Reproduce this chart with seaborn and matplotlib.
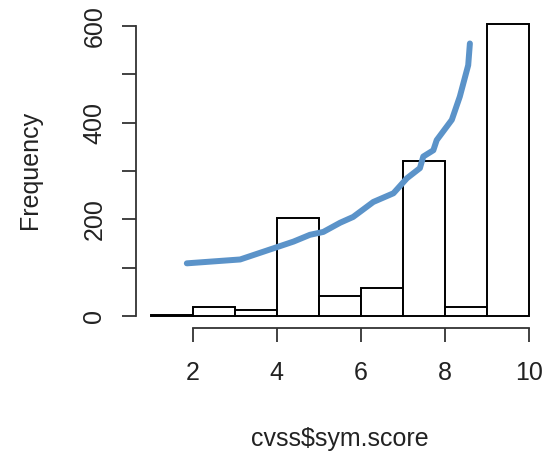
import numpy as np
import pandas as pd
import matplotlib
matplotlib.use("Agg")
import matplotlib.pyplot as plt
import seaborn as sns

# Histogram bins (score) and counts
bin_edges = [1, 2, 3, 4, 5, 6, 7, 8, 9, 10]
counts = [3, 19, 12, 202, 41, 57, 320, 19, 605]

# Overlaid blue curve
curve_x = [1.86, 3.13, 3.68, 4.40, 4.79, 5.11, 5.51, 5.82, 6.30, 6.78,
           7.10, 7.41, 7.49, 7.73, 7.81, 8.17, 8.36, 8.56, 8.60]
curve_y = [109, 117, 133, 154, 168, 174, 193, 205, 236, 254,
           285, 306, 330, 343, 364, 406, 454, 519, 564]

x_ticks = [2, 4, 6, 8, 10]
y_ticks = [0, 100, 200, 300, 400, 500, 600]
y_ticklabels = ["0", "", "200", "", "400", "", "600"]

sns.set_style("white")
plt.rcParams['font.family'] = ['Liberation Sans', 'DejaVu Sans']

centers = [(a + b) / 2 for a, b in zip(bin_edges[:-1], bin_edges[1:])]
df = pd.DataFrame({"score": centers, "count": counts})
curve = pd.DataFrame({"x": curve_x, "y": curve_y})

fig = plt.figure(figsize=(5.45, 4.53), dpi=100)
ax = fig.add_axes([0.2488, 0.2766, 0.749, 0.697])

sns.histplot(data=df, x="score", weights="count", bins=bin_edges,
             color="white", edgecolor="black", linewidth=1.4, alpha=1, ax=ax)
sns.lineplot(data=curve, x="x", y="y", color="#5b93c9", linewidth=4.3,
             sort=False, ax=ax, solid_capstyle="round", solid_joinstyle="round")

ax.set_xlim(0.64, 10.36)
ax.set_ylim(-24.2, 629.2)
ax.set_xticks(x_ticks)
ax.set_xticklabels([str(t) for t in x_ticks])
ax.set_yticks(y_ticks)
ax.set_yticklabels(y_ticklabels, rotation=90, va="center")

for s in ["top", "right"]:
    ax.spines[s].set_visible(False)
ax.spines["bottom"].set_bounds(2, 10)
ax.spines["left"].set_bounds(0, 600)
for s in ["bottom", "left"]:
    ax.spines[s].set_color("#333333")
    ax.spines[s].set_linewidth(1.3)

ax.tick_params(axis="both", direction="out", length=10, width=1.3,
               color="#333333", labelsize=18, colors="#222222",
               bottom=True, left=True)
ax.tick_params(axis="x", pad=14)
ax.tick_params(axis="y", pad=11)

ax.set_xlabel("cvss$sym.score", fontsize=18, color="#222222")
ax.set_ylabel("Frequency", fontsize=18, color="#222222")
ax.xaxis.set_label_coords(0.5, -0.315)
ax.yaxis.set_label_coords(-0.229, 0.5)

fig.savefig("out.png", dpi=100)
